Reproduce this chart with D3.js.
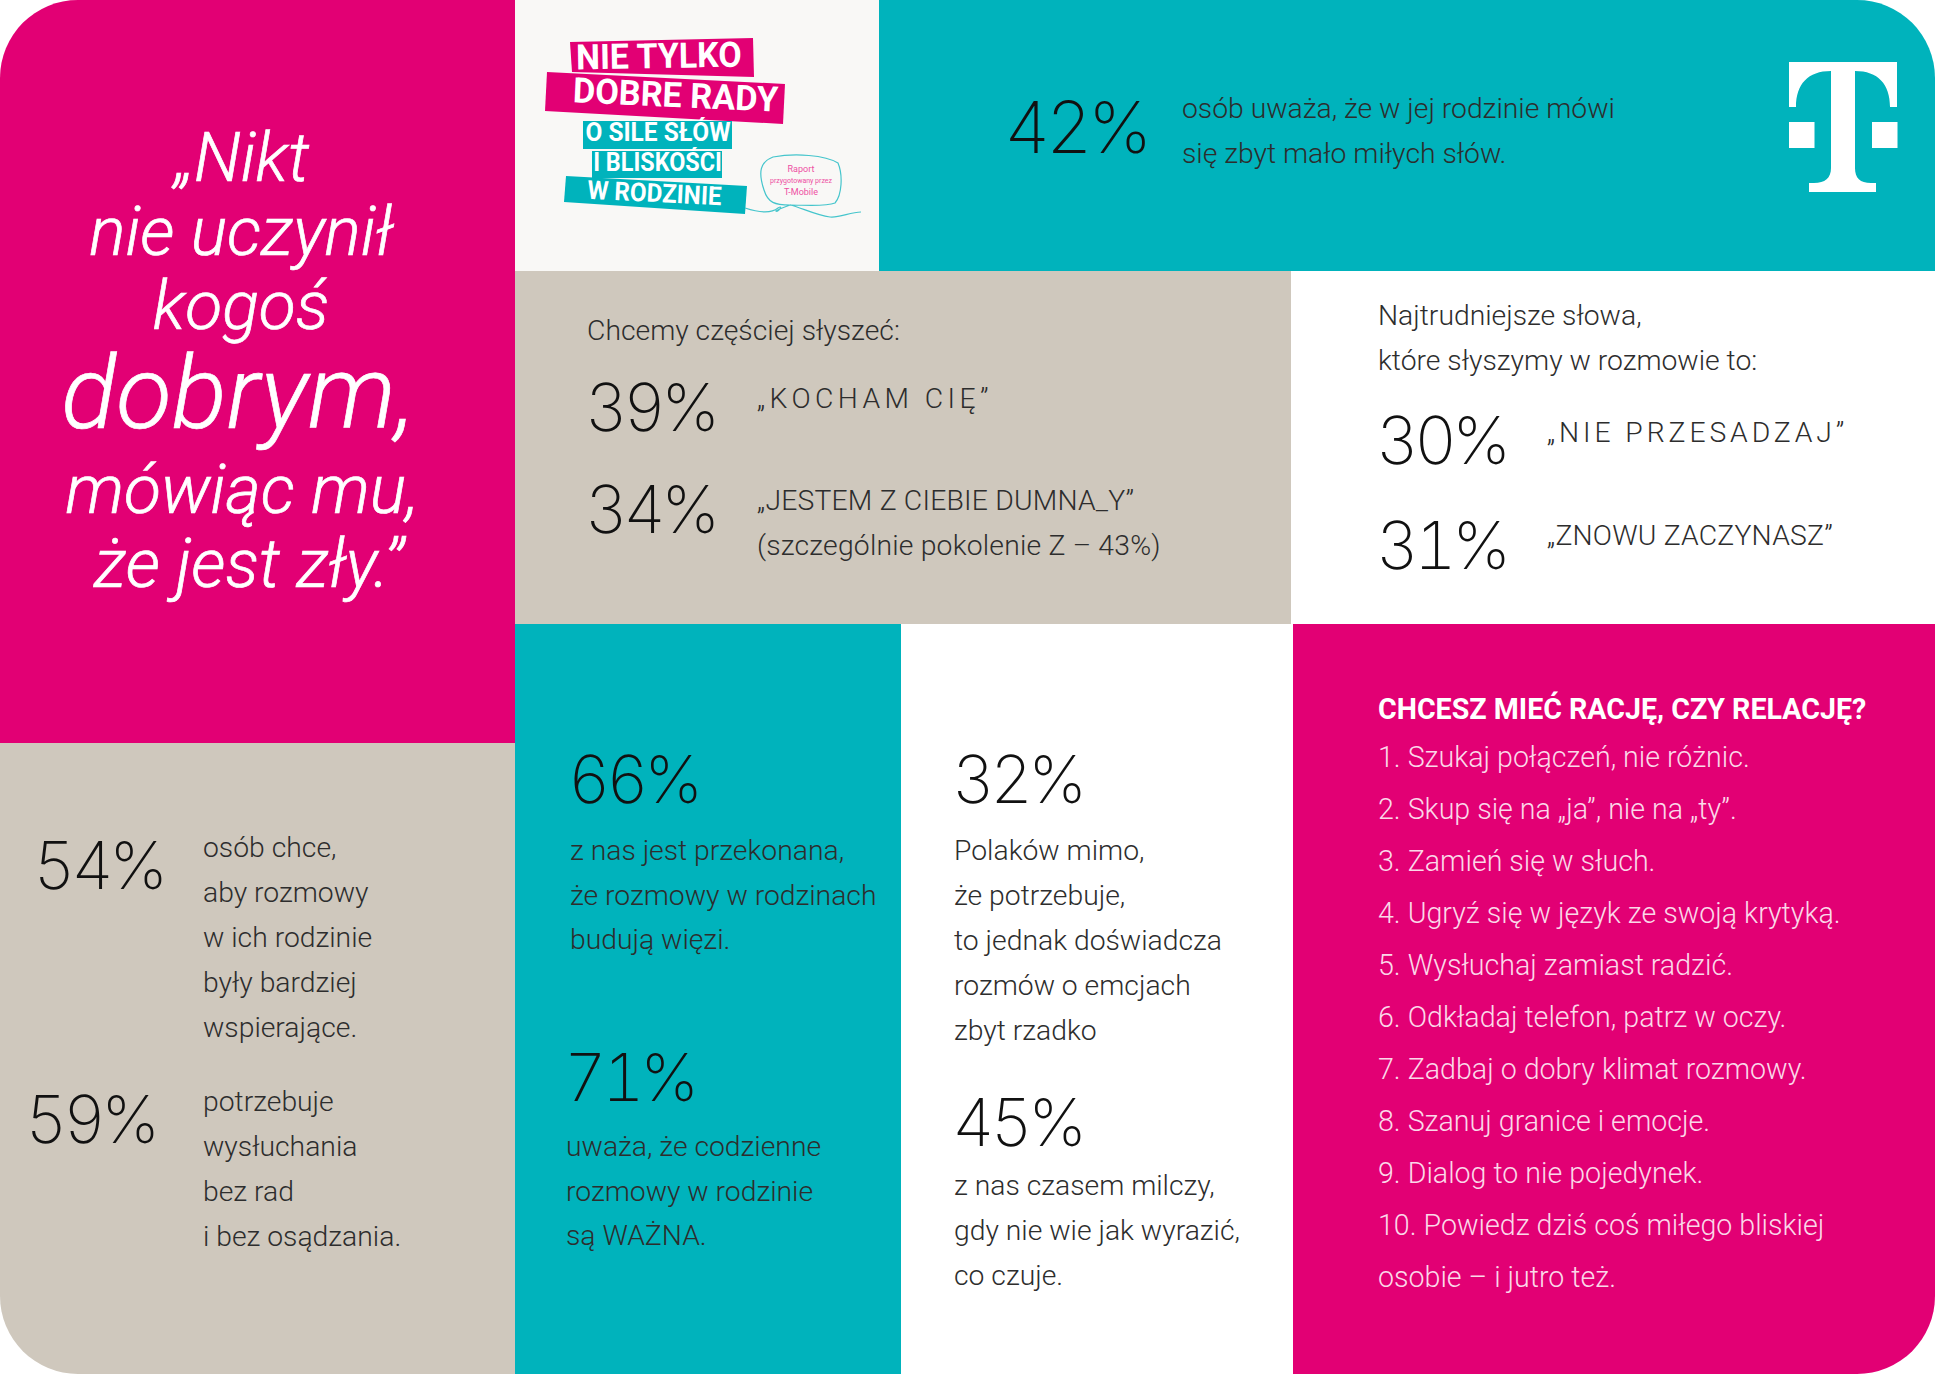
<!DOCTYPE html>
<html>
<head>
<meta charset="utf-8">
<script src="https://cdn.jsdelivr.net/npm/d3@7"></script>
<style>
  html, body { margin: 0; padding: 0; background: #fff; }
  svg { display: block; }
  text { font-family: Roboto, Inter, sans-serif; font-kerning: normal; }
</style>
</head>
<body>
<div id="chart"></div>
<script>
// values
const statValues = [42, 39, 34, 30, 31, 54, 59, 66, 71, 32, 45];
const statLabels = [
  ["osób uważa, że w jej rodzinie mówi", "się zbyt mało miłych słów."],
  ["„KOCHAM CIĘ”"],
  ["„JESTEM Z CIEBIE DUMNA_Y”", "(szczególnie pokolenie Z – 43%)"],
  ["„NIE PRZESADZAJ”"],
  ["„ZNOWU ZACZYNASZ”"],
  ["osób chce,", "aby rozmowy", "w ich rodzinie", "były bardziej", "wspierające."],
  ["potrzebuje", "wysłuchania", "bez rad", "i bez osądzania."],
  ["z nas jest przekonana,", "że rozmowy w rodzinach", "budują więzi."],
  ["uważa, że codzienne", "rozmowy w rodzinie", "są WAŻNA."],
  ["Polaków mimo,", "że potrzebuje,", "to jednak doświadcza", "rozmów o emcjach", "zbyt rzadko"],
  ["z nas czasem milczy,", "gdy nie wie jak wyrazić,", "co czuje."]
];
const quoteLines = ["„Nikt", "nie uczynił", "kogoś", "dobrym,", "mówiąc mu,", "że jest zły.”"];
const introLines = [
  { lines: ["Chcemy częściej słyszeć:"] },
  { lines: ["Najtrudniejsze słowa,", "które słyszymy w rozmowie to:"] }
];
const tipsTitle = "CHCESZ MIEĆ RACJĘ, CZY RELACJĘ?";
const tips = [
  "1. Szukaj połączeń, nie różnic.",
  "2. Skup się na „ja”, nie na „ty”.",
  "3. Zamień się w słuch.",
  "4. Ugryź się w język ze swoją krytyką.",
  "5. Wysłuchaj zamiast radzić.",
  "6. Odkładaj telefon, patrz w oczy.",
  "7. Zadbaj o dobry klimat rozmowy.",
  "8. Szanuj granice i emocje.",
  "9. Dialog to nie pojedynek.",
  "10. Powiedz dziś coś miłego bliskiej",
  "osobie – i jutro też."
];

// layout, in pixels of the page
const width = 1935, height = 1374;
const pink = "#e20074", teal = "#00b3bc", sand = "#cfc8bd", ink = "#111", body = "#2d2d2d";

const panels = [
  [0, 0, 515, 743, pink],
  [515, 0, 364, 271, "#f9f8f6"],
  [879, 0, 1056, 271, teal],
  [515, 271, 776, 353, sand],
  [1291, 271, 644, 353, "#fff"],
  [0, 743, 515, 631, sand],
  [515, 624, 386, 750, teal],
  [901, 624, 392, 750, "#fff"],
  [1293, 624, 642, 750, pink]
];

// slots for stats: number x, number baseline, number size, label x, first label baseline, label line step, tracking
const statSlots = [
  [1004, 153, 72, 1182, 117.5, 45, 0],
  [585, 431, 66, 757, 408, 45, 4.4],
  [585, 533, 66, 757, 510, 45, 0.2],
  [1376, 464, 66, 1547, 442, 45, 3.9],
  [1376, 569, 66, 1547, 545, 45, 0.2],
  [33, 889, 66, 203, 857, 45, 0],
  [25, 1143, 66, 203, 1111, 45, 0],
  [568, 803, 66, 570, 860, 44.6, 0],
  [564, 1101, 66, 566, 1156, 44.6, 0],
  [952, 803, 66, 954, 860, 45, 0],
  [952, 1146, 66, 954, 1195, 45, 0]
];

const svg = d3.select("#chart").append("svg")
    .attr("width", width)
    .attr("height", height)
    .attr("viewBox", [0, 0, width, height]);

svg.append("clipPath").attr("id", "card")
  .append("rect").attr("width", width).attr("height", height).attr("rx", 78);

const card = svg.append("g").attr("clip-path", "url(#card)");

card.selectAll("rect.panel")
  .data(panels)
  .join("rect")
    .attr("class", "panel")
    .attr("x", d => d[0])
    .attr("y", d => d[1])
    .attr("width", d => d[2])
    .attr("height", d => d[3])
    .attr("fill", d => d[4]);

// quote
const quoteBase = [181, 255, 329, 428, 513, 587];
const quoteX = [242, 241, 241, 238, 242, 249];
card.append("g")
    .attr("fill", "#fff")
    .attr("stroke", "#fff")
    .attr("stroke-width", 0.7)
    .attr("text-anchor", "middle")
    .attr("font-style", "italic")
  .selectAll("text")
  .data(quoteLines)
  .join("text")
    .attr("x", (d, i) => quoteX[i])
    .attr("y", (d, i) => quoteBase[i])
    .attr("font-size", (d, i) => i == 3 ? 102 : 68)
    .attr("font-weight", 300)
    .text(d => d);

// stats
const stat = card.selectAll("g.stat")
  .data(statValues)
  .join("g")
    .attr("class", "stat");

stat.append("text")
    .attr("x", (d, i) => statSlots[i][0])
    .attr("y", (d, i) => statSlots[i][1])
    .attr("font-size", (d, i) => statSlots[i][2])
    .attr("font-weight", 150)
    .attr("letter-spacing", -4.5)
    .attr("fill", ink)
    .style("font-family", "Inter, sans-serif")
    .style("font-variant-numeric", "tabular-nums")
    .text(d => d + "%");

stat.each(function(d, i) {
  const s = statSlots[i];
  d3.select(this).selectAll("text.label")
    .data(statLabels[i])
    .join("text")
      .attr("class", "label")
      .attr("x", s[3])
      .attr("y", (t, j) => s[4] + j * s[5])
      .attr("font-size", 28.3)
      .attr("font-weight", 300)
      .attr("letter-spacing", s[6])
      .attr("fill", body)
      .text(t => t);
});

// headings above the quoted phrases
const introSlots = [[587, 340], [1378, 325]];
card.selectAll("g.intro")
  .data(introLines)
  .join("g")
    .attr("class", "intro")
    .each(function(d, i) {
      d3.select(this).selectAll("text")
        .data(d.lines)
        .join("text")
          .attr("x", introSlots[i][0])
          .attr("y", (t, j) => introSlots[i][1] + j * 45)
          .attr("font-size", 28.3)
          .attr("font-weight", 300)
          .attr("fill", body)
          .text(t => t);
    });

// tips
card.append("text")
    .attr("x", 1378)
    .attr("y", 719)
    .attr("font-size", 28.6)
    .attr("font-weight", 700)
    .attr("fill", "#fff")
    .text(tipsTitle);

const tipY = d3.scaleLinear().domain([0, tips.length - 1]).range([767, 1287]);
card.append("g").selectAll("text")
  .data(tips)
  .join("text")
    .attr("x", 1378)
    .attr("y", (d, i) => tipY(i))
    .attr("font-size", 28.6)
    .attr("font-weight", 300)
    .attr("fill", "#fbd8e9")
    .text(d => d);

// report cover: strips and their words
const strips = [
  ["570,42 753,38 754,77 572,72", pink],
  ["547,72 785,84 783,124 545,111", pink],
  ["583,121 732,121 732,149 583,149", teal],
  ["592,151 722,151 722,178 592,178", teal],
  ["566,176 747,186 745,214 564,202", teal]
];
const stripWords = ["NIE TYLKO", "DOBRE RADY", "O SILE SŁÓW", "I BLISKOŚCI", "W RODZINIE"];
const stripSlots = [[659, 68, -1, 35, .97], [675, 107, 2.6, 35, .98], [658, 141, 0, 26, .94], [657.5, 171, 0, 26, .9], [654, 202, 2.8, 26, .93]];
const cover = card.append("g");
cover.selectAll("polygon")
  .data(strips)
  .join("polygon")
    .attr("points", d => d[0])
    .attr("fill", d => d[1]);
cover.selectAll("text")
  .data(stripWords)
  .join("text")
    .attr("transform", (d, i) => `translate(${stripSlots[i][0]},${stripSlots[i][1]}) rotate(${stripSlots[i][2]}) scale(${stripSlots[i][4]},1)`)
    .attr("text-anchor", "middle")
    .attr("font-size", (d, i) => stripSlots[i][3])
    .attr("font-weight", 700)
    .attr("fill", "#fff")
    .text(d => d);

// speech bubble
cover.append("path")
    .attr("d", "M745,208 C760,213 772,213 778,208 C784,204 778,213 776,211 C782,207 786,207 790,205 C775,205 768,203 764,190 C758,172 760,162 773,157 C795,153 825,155 838,163 C843,175 842,195 835,203 C825,207 805,205 790,205 C800,207 815,215 830,217 C840,218 850,212 861,212")
    .attr("fill", "none")
    .attr("stroke", "#45c5cc")
    .attr("stroke-width", 1.2);
const bubbleLines = ["Raport", "przygotowany przez", "T-Mobile"];
cover.selectAll("text.bubble")
  .data(bubbleLines)
  .join("text")
    .attr("class", "bubble")
    .attr("x", 801)
    .attr("y", (d, i) => [172, 183, 195][i])
    .attr("text-anchor", "middle")
    .attr("font-size", (d, i) => i == 1 ? 7 : 9)
    .attr("fill", "#ee4fa3")
    .text(d => d);

// logo
const logo = card.append("g").attr("fill", "#fff");
logo.append("path")
    .attr("d", "M1789,62 H1897 V107 H1890 C1890,84 1878,71 1855,71 V168 C1855,178 1860,183 1871,183 H1876 V192 H1809 V183 H1814 C1825,183 1831,178 1831,168 V71 C1808,71 1796,84 1796,107 H1789 Z");
logo.append("rect").attr("x", 1789).attr("y", 122).attr("width", 25.5).attr("height", 26);
logo.append("rect").attr("x", 1872).attr("y", 122).attr("width", 25.5).attr("height", 26);
</script>
</body>
</html>
